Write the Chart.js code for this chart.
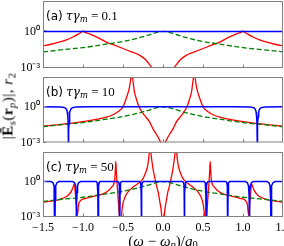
<!DOCTYPE html>
<html lang="en">
<head>
<meta charset="utf-8">
<title>|E_s(r_p)| and r_2 against detuning</title>
<script src="https://cdn.jsdelivr.net/npm/chart.js@4.4.1/dist/chart.umd.min.js"></script>
<style>
  html, body { margin: 0; padding: 0; background: #fff; overflow: hidden; }
  #fig { position: relative; width: 284px; height: 246px; overflow: hidden; background: #fff; }
  #fig canvas { position: absolute; left: 0; top: 0; }
  .txt { position: absolute; white-space: nowrap; line-height: 1; color: #000;
         font-family: "Liberation Serif", "DejaVu Serif", serif; }
  .txt sub { font-size: 70%; line-height: 0; vertical-align: -0.25em; }
  .tag { font-family: "DejaVu Sans", sans-serif; font-size: 12px; }
  .math { font-family: "DejaVu Serif", serif; font-style: italic; font-size: 12px; }
  .panel { left: 46px; font-size: 13px; transform: translateY(-50%); }
  #xtitle { left: 163px; top: 241px; font-size: 15px; transform: translate(-50%, -50%); }
  #ytitle { left: 8px; top: 106px; font-size: 15px; letter-spacing: 0.5px;
            transform: translate(-50%, -50%) rotate(-90deg); }
</style>
</head>
<body>
<div id="fig">
  <canvas id="cA" width="300" height="246"></canvas>
  <canvas id="cB" width="300" height="246"></canvas>
  <canvas id="cC" width="300" height="246"></canvas>
  <div id="ytitle" class="txt">|<b>Ẽ</b><sub>s</sub>(<b>r</b><sub><i>p</i></sub>)|, <i>r</i><sub>2</sub></div>
  <div id="xtitle" class="txt">(<i>ω</i> − <i>ω</i><sub><i>p</i></sub>)/<i>g</i><sub>0</sub></div>
</div>
<script>
const xTicks = [-1.5, -1.0, -0.5, 0.0, 0.5, 1.0, 1.5];
const yTicks = [1e-3, 1];
const panelTags = ["(a)", "(b)", "(c)"];
const tauGammaM = ["0.1", "10", "50"];

// green dashed curve, the same in all three panels
const greenX = [-1.5, -1.25, -1.0, -0.75, -0.5, -0.35, -0.2, -0.1, -0.05, 0, 0.05, 0.1, 0.2, 0.35, 0.5, 0.75, 1.0, 1.25, 1.5];
const greenY = [0.021, 0.032, 0.047, 0.083, 0.15, 0.25, 0.47, 0.76, 0.92, 1.0, 0.92, 0.76, 0.47, 0.25, 0.15, 0.083, 0.047, 0.032, 0.021];

// (a) tau*gamma_m = 0.1
const blueAX = [-1.5, 1.5];
const blueAY = [1, 1];
const redAX = [-1.5, -1.4, -1.3, -1.2, -1.125, -1.06, -1.02, -1.0, -0.98, -0.94, -0.875, -0.8, -0.71, -0.6, -0.5, -0.4, -0.29, -0.22, -0.17, -0.14, -0.1, -0.05, 0,
  0.05, 0.1, 0.14, 0.17, 0.22, 0.29, 0.4, 0.5, 0.6, 0.71, 0.8, 0.875, 0.94, 0.98, 1.0, 1.02, 1.06, 1.125, 1.2, 1.3, 1.4, 1.5];
const redAY = [0.065, 0.089, 0.13, 0.21, 0.35, 0.6, 0.87, 1.1, 0.89, 0.71, 0.48, 0.28, 0.135, 0.071, 0.04, 0.022, 0.011, 0.005, 0.002, 0.001, 0.00025, 3e-5, 1e-6,
  3e-5, 0.00025, 0.001, 0.002, 0.005, 0.011, 0.022, 0.04, 0.071, 0.135, 0.28, 0.48, 0.71, 0.89, 1.1, 0.87, 0.6, 0.35, 0.21, 0.13, 0.089, 0.065];

// (b) tau*gamma_m = 10
const blueBX = [-1.5, -1.28, -1.236, -1.216, -1.204, -1.196, -1.19, -1.185, -1.1825, -1.18, -1.1775, -1.175, -1.17, -1.164, -1.156, -1.144, -1.124, -1.08, -0.9,
  0.9, 1.08, 1.124, 1.144, 1.156, 1.164, 1.17, 1.175, 1.1775, 1.18, 1.1825, 1.185, 1.19, 1.196, 1.204, 1.216, 1.236, 1.28, 1.5];
const blueBY = [1, 0.98, 0.88, 0.75, 0.55, 0.35, 0.15, 0.04, 0.01, 1e-5, 0.01, 0.04, 0.15, 0.35, 0.55, 0.75, 0.88, 0.98, 1,
  1, 0.98, 0.88, 0.75, 0.55, 0.35, 0.15, 0.04, 0.01, 1e-5, 0.01, 0.04, 0.15, 0.35, 0.55, 0.75, 0.88, 0.98, 1];
const redBX = [-1.5, -1.3, -1.17, -1.0, -0.85, -0.71, -0.62, -0.55, -0.5, -0.45, -0.42, -0.4, -0.387, -0.38, -0.37, -0.355, -0.33, -0.3, -0.25, -0.21, -0.17, -0.125, -0.08, -0.05, -0.025, 0,
  0.025, 0.05, 0.08, 0.125, 0.17, 0.21, 0.25, 0.3, 0.33, 0.355, 0.37, 0.38, 0.387, 0.4, 0.42, 0.45, 0.5, 0.55, 0.62, 0.71, 0.85, 1.0, 1.17, 1.3, 1.5];
const redBY = [0.0234, 0.0316, 0.0398, 0.0562, 0.0832, 0.132, 0.224, 0.447, 1.0, 7.94, 39.8, 316, 2000, 316, 79.4, 15.8, 3.98, 1.0, 0.282, 0.126, 0.0562, 0.0141, 0.00447, 0.002, 0.00063, 1e-5,
  0.00063, 0.002, 0.00447, 0.0141, 0.0562, 0.126, 0.282, 1.0, 3.98, 15.8, 79.4, 316, 2000, 316, 39.8, 7.94, 1.0, 0.447, 0.224, 0.132, 0.0832, 0.0562, 0.0398, 0.0316, 0.0234];

// (c) tau*gamma_m = 50
const blueCX = [-1.5,
  -1.4, -1.375, -1.362, -1.356, -1.353, -1.35, -1.347, -1.344, -1.338, -1.325, -1.3,
  -1.13, -1.105, -1.092, -1.086, -1.083, -1.08, -1.077, -1.074, -1.068, -1.055, -1.03,
  -0.835, -0.822, -0.816, -0.813, -0.81, -0.807, -0.804, -0.798, -0.785,
  -0.565, -0.552, -0.546, -0.543, -0.54, -0.537, -0.534, -0.528, -0.515,
  -0.295, -0.282, -0.276, -0.273, -0.27, -0.267, -0.264, -0.258, -0.245,
  0.245, 0.258, 0.264, 0.267, 0.27, 0.273, 0.276, 0.282, 0.295,
  0.515, 0.528, 0.534, 0.537, 0.54, 0.543, 0.546, 0.552, 0.565,
  0.785, 0.798, 0.804, 0.807, 0.81, 0.813, 0.816, 0.822, 0.835,
  1.03, 1.055, 1.068, 1.074, 1.077, 1.08, 1.083, 1.086, 1.092, 1.105, 1.13,
  1.3, 1.325, 1.338, 1.344, 1.347, 1.35, 1.353, 1.356, 1.362, 1.375, 1.4,
  1.5];
const blueCY = [1,
  1, 0.8, 0.45, 0.12, 0.03, 1e-5, 0.03, 0.12, 0.45, 0.8, 1,
  1, 0.8, 0.45, 0.12, 0.03, 1e-5, 0.03, 0.12, 0.45, 0.8, 1,
  1, 0.8, 0.4, 0.1, 1e-5, 0.1, 0.4, 0.8, 1,
  1, 0.8, 0.4, 0.1, 1e-5, 0.1, 0.4, 0.8, 1,
  1, 0.8, 0.4, 0.1, 1e-5, 0.1, 0.4, 0.8, 1,
  1, 0.8, 0.4, 0.1, 1e-5, 0.1, 0.4, 0.8, 1,
  1, 0.8, 0.4, 0.1, 1e-5, 0.1, 0.4, 0.8, 1,
  1, 0.8, 0.4, 0.1, 1e-5, 0.1, 0.4, 0.8, 1,
  1, 0.8, 0.45, 0.12, 0.03, 1e-5, 0.03, 0.12, 0.45, 0.8, 1,
  1, 0.8, 0.45, 0.12, 0.03, 1e-5, 0.03, 0.12, 0.45, 0.8, 1,
  1];
const redCX = [-1.5, -1.4, -1.3, -1.2, -1.17, -1.14, -1.12, -1.108, -1.097, -1.085, -1.07, -1.055, -1.03, -0.98, -0.9, -0.79, -0.73, -0.67, -0.64, -0.62,
  -0.605, -0.597, -0.59, -0.583, -0.575, -0.565, -0.555, -0.545, -0.53, -0.515, -0.5, -0.48, -0.46, -0.42, -0.38, -0.33, -0.29, -0.25, -0.22, -0.19,
  -0.172, -0.163, -0.152, -0.14, -0.125, -0.105, -0.083, -0.06, -0.04, -0.02,
  0, 0.02, 0.04, 0.06, 0.083, 0.105, 0.125, 0.14, 0.152, 0.163, 0.172, 0.19, 0.22, 0.25, 0.29, 0.33, 0.38, 0.42, 0.46, 0.48,
  0.5, 0.515, 0.53, 0.545, 0.555, 0.565, 0.575, 0.583, 0.59, 0.597, 0.605, 0.62, 0.64, 0.67, 0.73, 0.79, 0.9, 0.98, 1.03, 1.055,
  1.07, 1.085, 1.097, 1.108, 1.12, 1.14, 1.17, 1.2, 1.3, 1.4, 1.5];
const redCY = [0.018, 0.022, 0.03, 0.056, 0.089, 0.178, 0.4, 0.63, 0.126, 0.0158, 0.0014, 0.0112, 0.025, 0.0355, 0.05, 0.076, 0.105, 0.2, 0.355, 0.5,
  1.4, 6.3, 50, 6.3, 0.79, 0.1, 0.01, 0.001, 3e-5, 0.0025, 0.014, 0.04, 0.079, 0.178, 0.316, 0.56, 0.89, 1.78, 5, 25,
  251, 2000, 316, 63, 12.6, 2.5, 0.5, 0.126, 0.02, 0.0025,
  1e-5, 0.0025, 0.02, 0.126, 0.5, 2.5, 12.6, 63, 316, 2000, 251, 25, 5, 1.78, 0.89, 0.56, 0.316, 0.178, 0.079, 0.04,
  0.014, 0.0025, 3e-5, 0.001, 0.01, 0.1, 0.79, 6.3, 50, 6.3, 1.4, 0.5, 0.355, 0.2, 0.105, 0.076, 0.05, 0.0355, 0.025, 0.0112,
  0.0014, 0.0158, 0.126, 0.63, 0.4, 0.178, 0.089, 0.056, 0.03, 0.022, 0.018];

// where each panel's plot box sits in the 246px tall figure
const panelBoxes = [{ top: 1, bottom: 68 }, { top: 77, bottom: 142.5 }, { top: 152, bottom: 217 }];
const FIG_H = 246;
const FRAME = "#808080";

const SUP = { "-": "\u207B", "0": "\u2070", "1": "\u00B9", "2": "\u00B2", "3": "\u00B3" };
function powLabel(v) {
  const e = String(Math.round(Math.log10(v)));
  return "10" + e.split("").map(c => SUP[c]).join("");
}

function pts(xs, ys) {
  return xs.map((x, i) => ({ x: x, y: ys[i] }));
}

// gray box round the plot area and the small inward ticks
const framePlugin = {
  id: "frame",
  afterDraw(chart) {
    const { ctx, chartArea: a, scales } = chart;
    ctx.save();
    ctx.strokeStyle = FRAME;
    ctx.lineWidth = 1;
    ctx.strokeRect(a.left + 0.5, a.top + 0.5, a.right - a.left - 1, a.bottom - a.top - 1);
    ctx.beginPath();
    xTicks.slice(1, -1).forEach(v => {
      const px = Math.round(scales.x.getPixelForValue(v)) + 0.5;
      ctx.moveTo(px, a.bottom);
      ctx.lineTo(px, a.bottom - 3.5);
    });
    yTicks.forEach(v => {
      const py = Math.round(scales.y.getPixelForValue(v)) - 0.5;
      ctx.moveTo(a.left, py);
      ctx.lineTo(a.left + 3.5, py);
    });
    ctx.stroke();
    ctx.restore();
  }
};

function drawPanel(id, box, blue, red, withX) {
  return new Chart(document.getElementById(id), {
    type: "line",
    data: {
      datasets: [
        { data: blue, borderColor: "#0000ff", borderWidth: 1.5, tension: 0 },
        { data: pts(greenX, greenY), borderColor: "#008000", borderWidth: 1.3, borderDash: [5, 2.5], cubicInterpolationMode: "monotone" },
        { data: red, borderColor: "#ff0000", borderWidth: 1.3, cubicInterpolationMode: "monotone" }
      ]
    },
    options: {
      responsive: false,
      animation: false,
      devicePixelRatio: 1,
      events: [],
      elements: { point: { radius: 0 }, line: { fill: false } },
      layout: { padding: { left: 0, right: 17, top: box.top, bottom: withX ? 0 : FIG_H - box.bottom } },
      plugins: { legend: { display: false }, tooltip: { enabled: false } },
      scales: {
        x: {
          type: "linear", min: -1.5, max: 1.5, display: withX,
          grid: { display: false, drawTicks: false },
          border: { display: false },
          afterBuildTicks: s => { s.ticks = xTicks.map(v => ({ value: v })); },
          afterFit: s => {
            if (withX) { s.height = FIG_H - box.bottom; s.paddingLeft = 0; s.paddingRight = 0; }
          },
          ticks: {
            padding: 4, maxRotation: 0, autoSkip: false, color: "#000",
            font: { family: "Liberation Serif", size: 12 },
            callback: v => (v < 0 ? "\u2212" : "") + Math.abs(v).toFixed(1)
          }
        },
        y: {
          type: "logarithmic", min: 1e-3, max: Math.pow(10, 2.5),
          grid: { display: false, drawTicks: false },
          border: { display: false },
          afterBuildTicks: s => { s.ticks = yTicks.map(v => ({ value: v })); },
          afterFit: s => { s.width = 43; s.paddingTop = 0; s.paddingBottom = 0; },
          ticks: {
            padding: 3, color: "#000",
            font: { family: "Liberation Serif", size: 12 },
            callback: v => powLabel(v)
          }
        }
      }
    },
    plugins: [framePlugin]
  });
}

drawPanel("cA", panelBoxes[0], pts(blueAX, blueAY), pts(redAX, redAY), false);
drawPanel("cB", panelBoxes[1], pts(blueBX, blueBY), pts(redBX, redBY), false);
drawPanel("cC", panelBoxes[2], pts(blueCX, blueCY), pts(redCX, redCY), true);

// panel tags "(a) τγm = 0.1" etc.
const fig = document.getElementById("fig");
const tagCenters = [15, 91, 166];
panelTags.forEach((tag, i) => {
  const d = document.createElement("div");
  d.className = "txt panel";
  d.style.top = tagCenters[i] + "px";
  d.innerHTML = '<span class="tag">' + tag + '</span> <span class="math">τγ<sub>m</sub></span> = ' + tauGammaM[i];
  fig.appendChild(d);
});
</script>
</body>
</html>
